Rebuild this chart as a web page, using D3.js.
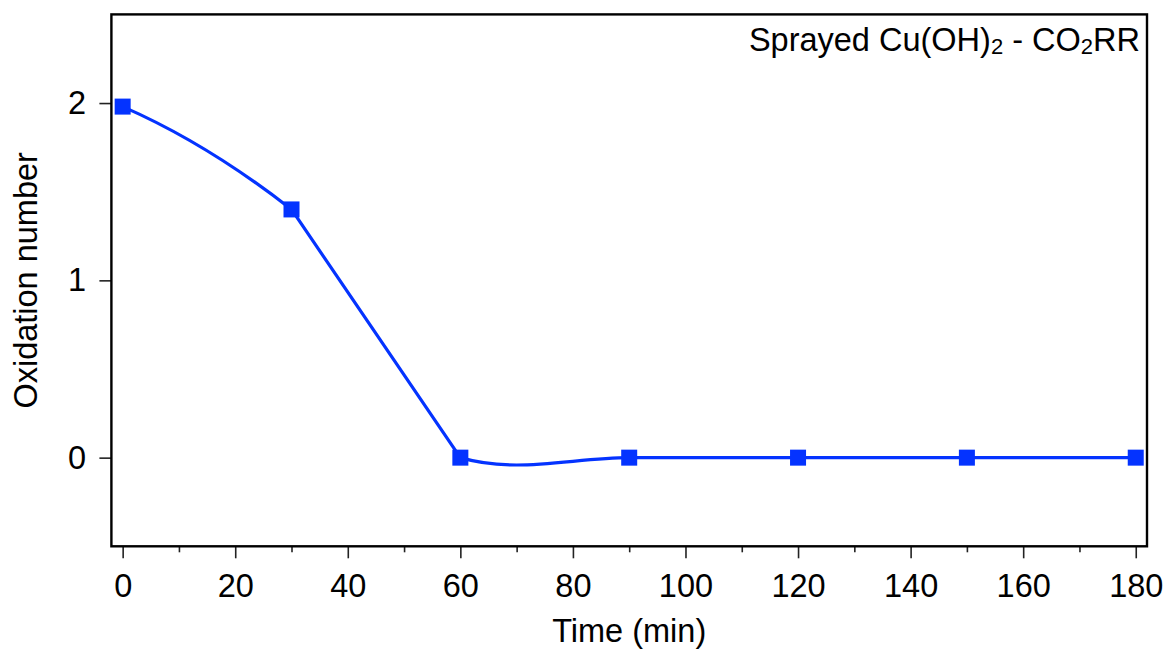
<!DOCTYPE html>
<html>
<head>
<meta charset="utf-8">
<script src="https://cdn.jsdelivr.net/npm/d3@7"></script>
<style>
  html, body { margin: 0; padding: 0; background: #fff; }
  svg { display: block; }
  text { font-family: "Liberation Sans", Arial, sans-serif; fill: #000; }
</style>
</head>
<body>
<svg id="chart" width="1168" height="650"></svg>
<script>
// Oxidation number of sprayed Cu(OH)2 during CO2 reduction, vs. time
const timeMin = [0, 30, 60, 90, 120, 150, 180];
const oxidationNumber = [1.98, 1.40, 0, 0, 0, 0, 0];
const xTickValues = [0, 20, 40, 60, 80, 100, 120, 140, 160, 180];
const xMinorTickValues = [10, 30, 50, 70, 90, 110, 130, 150, 170];
const yTickValues = [0, 1, 2];

const plot = { left: 111.4, right: 1147, top: 14.4, bottom: 546.3 };
const blue = "#0433ff";
const FONT = 32.5;

const svg = d3.select("#chart");

const x = d3.scaleLinear().domain([-2, 182]).range([plot.left, plot.right]);
const y = d3.scaleLinear().domain([-0.5, 2.5]).range([plot.bottom, plot.top]);

// Smooth connector: cubic Hermite pieces whose end tangents follow the
// segment's own chord, pulled slightly toward a neighbouring chord only
// where that neighbour is steeper. Open ends mirror the inner tangent.
const LEAN = 0.2;
function curveLeaning(context) {
  let xs, ys;
  return {
    areaStart() {}, areaEnd() {},
    lineStart() { xs = []; ys = []; },
    point(px, py) { xs.push(+px); ys.push(+py); },
    lineEnd() {
      const n = xs.length;
      if (!n) return;
      context.moveTo(xs[0], ys[0]);
      if (n === 1) return;
      const s = [];
      for (let i = 0; i < n - 1; i++) s.push((ys[i + 1] - ys[i]) / (xs[i + 1] - xs[i]));
      const pull = (own, other) =>
        Math.abs(other) > Math.abs(own) ? own + LEAN * (other - own) : own;
      for (let i = 0; i < n - 1; i++) {
        let m0 = i > 0 ? pull(s[i], s[i - 1]) : null;
        let m1 = i < n - 2 ? pull(s[i], s[i + 1]) : null;
        if (m0 === null) m0 = m1 === null ? s[i] : 2 * s[i] - m1;
        if (m1 === null) m1 = 2 * s[i] - m0;
        const h = (xs[i + 1] - xs[i]) / 3;
        context.bezierCurveTo(xs[i] + h, ys[i] + m0 * h,
                              xs[i + 1] - h, ys[i + 1] - m1 * h,
                              xs[i + 1], ys[i + 1]);
      }
    }
  };
}

const data = timeMin.map((t, i) => ({ t, v: oxidationNumber[i] }));

// x axis: major + minor ticks
const xAxis = svg.append("g")
  .attr("transform", `translate(0,${plot.bottom})`)
  .call(d3.axisBottom(x).tickValues(xTickValues).tickSize(12).tickPadding(15.5).tickFormat(d3.format("d")));
svg.append("g")
  .attr("transform", `translate(0,${plot.bottom})`)
  .call(d3.axisBottom(x).tickValues(xMinorTickValues).tickSize(6).tickFormat(""));

// y axis
svg.append("g")
  .attr("transform", `translate(${plot.left},0)`)
  .call(d3.axisLeft(y).tickValues(yTickValues).tickSize(12).tickPadding(13.4).tickFormat(d3.format("d")));

svg.selectAll(".domain").remove();
svg.selectAll(".tick line").attr("stroke", "#222").attr("stroke-width", 1.6);
svg.selectAll(".tick text")
  .style("font-family", "'Liberation Sans', Arial, sans-serif")
  .attr("font-size", FONT).attr("fill", "#000");
xAxis.selectAll(".tick text").attr("dy", "0.71em");

// frame
svg.append("rect")
  .attr("x", plot.left).attr("y", plot.top)
  .attr("width", plot.right - plot.left).attr("height", plot.bottom - plot.top)
  .attr("fill", "none").attr("stroke", "#000").attr("stroke-width", 2.4);

// data line
svg.append("path")
  .datum(data)
  .attr("fill", "none")
  .attr("stroke", blue)
  .attr("stroke-width", 3.2)
  .attr("d", d3.line().x(d => x(d.t)).y(d => y(d.v)).curve(curveLeaning));

// square markers
const ms = 16;
svg.append("g").selectAll("rect")
  .data(data)
  .join("rect")
  .attr("x", d => x(d.t) - ms / 2)
  .attr("y", d => y(d.v) - ms / 2)
  .attr("width", ms).attr("height", ms)
  .attr("fill", blue);

// axis titles
svg.append("text")
  .attr("x", (plot.left + plot.right) / 2).attr("y", 641.5)
  .attr("text-anchor", "middle").attr("font-size", FONT)
  .text("Time (min)");

svg.append("text")
  .attr("transform", `translate(37,${(plot.top + plot.bottom) / 2}) rotate(-90)`)
  .attr("text-anchor", "middle").attr("font-size", FONT)
  .text("Oxidation number");

// label in the top-right corner
const label = svg.append("text")
  .attr("x", 1140).attr("y", 50.5)
  .attr("text-anchor", "end").attr("font-size", FONT);
label.append("tspan").text("Sprayed Cu(OH)");
label.append("tspan").attr("font-size", 22).attr("dy", 3).text("2");
label.append("tspan").attr("dy", -3).text(" - CO");
label.append("tspan").attr("font-size", 22).attr("dy", 3).text("2");
label.append("tspan").attr("dy", -3).text("RR");
</script>
</body>
</html>
